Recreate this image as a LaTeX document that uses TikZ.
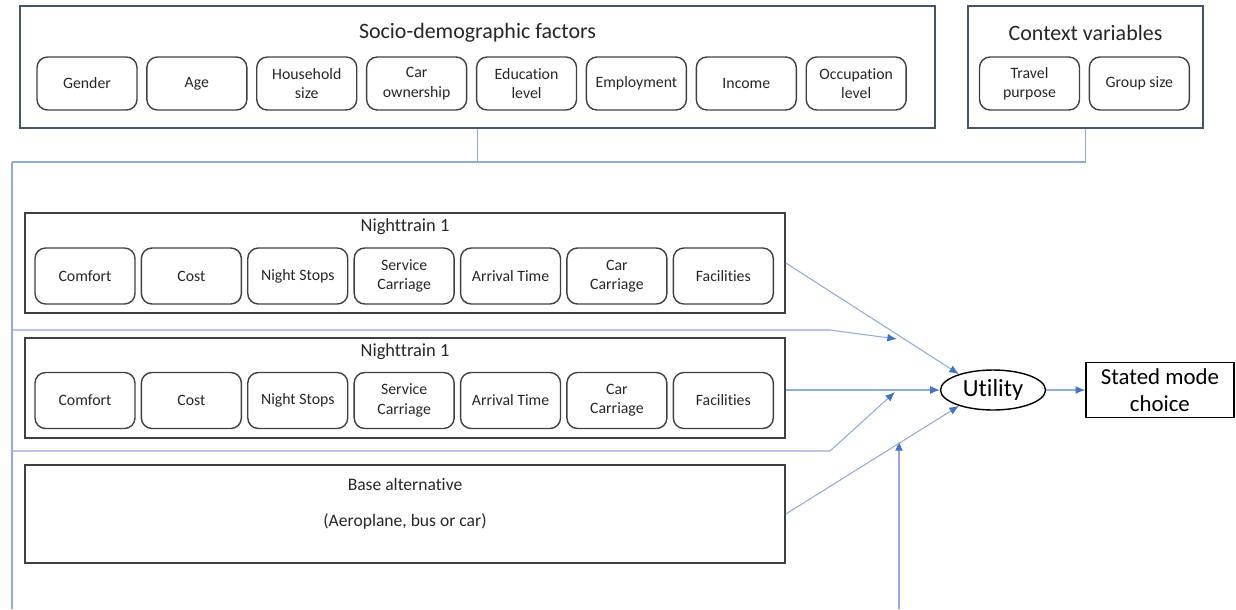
\documentclass[tikz,border=0pt]{standalone}
\usepackage{fontspec}
\setmainfont{Carlito}[Ligatures=NoCommon]
\usepackage{tikz}
\usetikzlibrary{shapes,arrows.meta}
\usetikzlibrary{positioning}
\definecolor{lineblue}{RGB}{143,170,220}
\definecolor{tipblue}{RGB}{68,114,196}
\definecolor{frameslate}{RGB}{68,84,106}
\definecolor{boxgray}{RGB}{64,64,64}
\definecolor{textgray}{RGB}{38,38,38}

\begin{document}
\begin{tikzpicture}[x=0.02cm, y=-0.02cm, text=textgray]
		\tikzstyle{factor}=[rectangle, rounded corners=6pt, draw=boxgray, line width=0.8pt, minimum width=2cm, align=center, inner sep=1pt, font=\fontsize{9}{11}\selectfont]
		\tikzstyle{frame}=[rectangle, draw=boxgray, line width=1pt, inner sep=0pt]
		\tikzstyle{conn}=[draw=lineblue, line width=0.6pt]
		\tikzset{arr/.style={conn, -{Latex[length=5.5pt, width=4.5pt, color=tipblue]}}}
		\useasboundingbox (0,0) rectangle (1236,609);

		\node[frame, draw=frameslate, minimum width=18.3cm, minimum height=2.44cm] (socio) at (477.5,67) {};
		\node[font=\fontsize{12.5}{15}\selectfont] (sociotitle) at (477.5,33) {Socio-demographic factors};
		\node[factor, minimum height=1.06cm] (gender) at (87,83.5) {Gender};
		\node[factor, minimum height=1.06cm, right=0.17cm of gender] (age) {Age};
		\node[factor, minimum height=1.06cm, right=0.17cm of age] (household) {Household\\size};
		\node[factor, minimum height=1.06cm, right=0.17cm of household] (carown) {Car\\ownership};
		\node[factor, minimum height=1.06cm, right=0.17cm of carown] (education) {Education\\level};
		\node[factor, minimum height=1.06cm, right=0.17cm of education] (employment) {Employment};
		\node[factor, minimum height=1.06cm, right=0.17cm of employment] (income) {Income};
		\node[factor, minimum height=1.06cm, right=0.17cm of income] (occupation) {Occupation\\level};

		\node[frame, draw=frameslate, minimum width=4.7cm, minimum height=2.44cm] (ctx) at (1085.5,67) {};
		\node[font=\fontsize{12.5}{15}\selectfont] (ctxtitle) at (1085.5,33) {Context variables};
		\node[factor, minimum height=1.06cm] (purpose) at (1029.5,83.5) {Travel\\purpose};
		\node[factor, minimum height=1.06cm, right=0.17cm of purpose] (groupsize) {Group size};

		\node[frame, minimum width=15.2cm, minimum height=2cm] (nt1) at (405,263) {};
		\node[font=\fontsize{10.5}{12}\selectfont] (nt1title) at (405,227) {Nighttrain 1};
		\node[factor, minimum height=1.12cm] (comfort1) at (85,276) {Comfort};
		\node[factor, minimum height=1.12cm, right=0.1cm of comfort1] (cost1) {Cost};
		\node[factor, minimum height=1.12cm, right=0.1cm of cost1] (stops1) {Night Stops};
		\node[factor, minimum height=1.12cm, right=0.1cm of stops1] (service1) {Service\\Carriage};
		\node[factor, minimum height=1.12cm, right=0.1cm of service1] (arrival1) {Arrival Time};
		\node[factor, minimum height=1.12cm, right=0.1cm of arrival1] (carcar1) {Car\\Carriage};
		\node[factor, minimum height=1.12cm, right=0.1cm of carcar1] (facil1) {Facilities};

		\node[frame, minimum width=15.2cm, minimum height=2cm] (nt2) at (405,388) {};
		\node[font=\fontsize{10.5}{12}\selectfont] (nt2title) at (405,352) {Nighttrain 1};
		\node[factor, minimum height=1.12cm] (comfort2) at (85,400.5) {Comfort};
		\node[factor, minimum height=1.12cm, right=0.1cm of comfort2] (cost2) {Cost};
		\node[factor, minimum height=1.12cm, right=0.1cm of cost2] (stops2) {Night Stops};
		\node[factor, minimum height=1.12cm, right=0.1cm of stops2] (service2) {Service\\Carriage};
		\node[factor, minimum height=1.12cm, right=0.1cm of service2] (arrival2) {Arrival Time};
		\node[factor, minimum height=1.12cm, right=0.1cm of arrival2] (carcar2) {Car\\Carriage};
		\node[factor, minimum height=1.12cm, right=0.1cm of carcar2] (facil2) {Facilities};

		\node[frame, minimum width=15.2cm, minimum height=1.96cm] (base) at (405,514) {};
		\node[font=\fontsize{10}{12}\selectfont] (basetitle) at (405,484) {Base alternative};
		\node[font=\fontsize{10}{12}\selectfont] (basemodes) at (405,521) {(Aeroplane, bus or car)};

		\node[ellipse, draw=black, line width=0.8pt, minimum width=2.1cm, minimum height=0.8cm, inner sep=0pt, text=black, font=\fontsize{14}{16}\selectfont] (ut) at (993,390) {Utility};
		\node[rectangle, draw=black, line width=0.8pt, minimum width=2.96cm, minimum height=1.1cm, align=center, text=black, font=\fontsize{13}{15}\selectfont, right=0.78cm of ut] (stated) {Stated mode\\choice};

		% context bus
		\coordinate (busL) at (12,162);
		\coordinate (busB) at (12,609);
		\draw[conn] (socio.south) |- (busL);
		\draw[conn] (ctx.south) |- (busL);
		\draw[conn] (busL) -- (busB);

		\coordinate (k1) at (12,330);
		\coordinate (k1b) at (830,330);
		\coordinate (t1) at (897,339);
		\draw[arr] (k1) -- (k1b) -- (t1);
		\coordinate (k2) at (12,451);
		\coordinate (k2b) at (830,451);
		\coordinate (t2) at (895,392);
		\draw[arr] (k2) -- (k2b) -- (t2);
		\coordinate (k3) at (899,609);
		\coordinate (t3) at (899,441);
		\draw[arr] (k3) -- (t3);

		\draw[arr] (nt1.east) -- (ut.155);
		\draw[arr] (nt2.east |- ut.west) -- (ut.west);
		\draw[arr] (base.east) -- (ut.205);
		\draw[arr] (ut) -- (stated);

	\end{tikzpicture}
\end{document}
